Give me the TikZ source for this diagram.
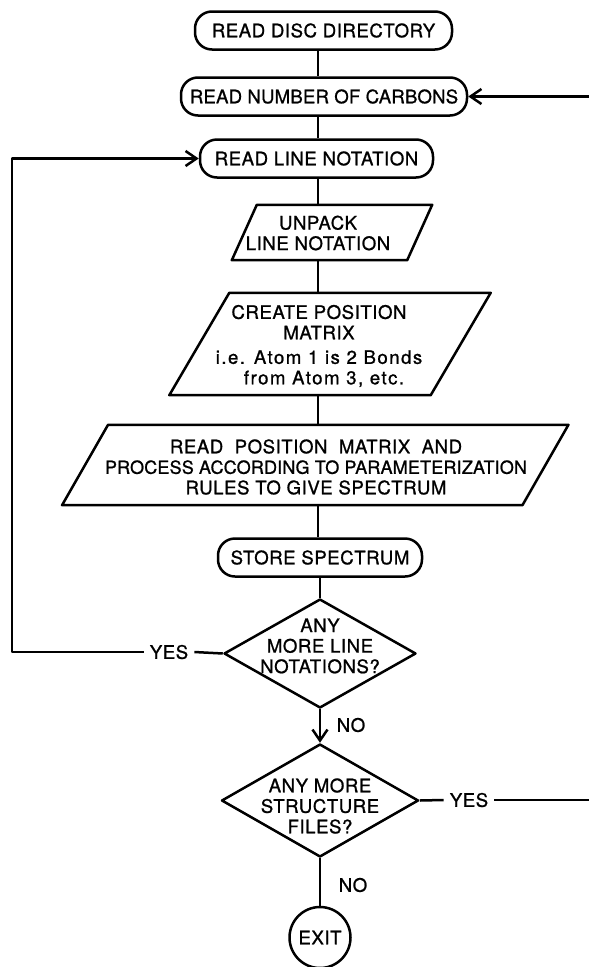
\documentclass[tikz,border=0pt]{standalone}
\usepackage{fontspec}
\setmainfont{TeX Gyre Heros}[LetterSpace=3, FakeBold=1]
\newfontfamily\widefont{TeX Gyre Heros}[LetterSpace=8, FakeBold=1]
\newfontfamily\tightfont{TeX Gyre Heros}[LetterSpace=1, FakeBold=1]
\usetikzlibrary{arrows.meta,shapes.geometric}

% parallelogram drawn around an empty named box: #1 node, #2 horizontal slant
\newcommand\slantbox[2]{%
  \draw[flow] ([xshift=#2/2]#1.north west) -- ([xshift=#2/2]#1.north east)
    -- ([xshift=-#2/2]#1.south east) -- ([xshift=-#2/2]#1.south west) -- cycle;}

\begin{document}
\begin{tikzpicture}[x=1pt,y=-1pt,
  every node/.style={font=\fontsize{18.6}{20.5}\selectfont},
  flow/.style={line width=2.5pt, line join=round},
  >={Straight Barb[length=11pt,width=15pt]},
  term/.style={draw, flow, rounded corners=17pt, inner sep=0pt, minimum height=38pt},
  iobox/.style={inner sep=0pt},
  decision/.style={draw, flow, diamond, inner sep=0pt},
  txt/.style={align=center, inner sep=0pt},
  lbl/.style={inner sep=6pt}
]
\useasboundingbox (0,0) rectangle (589,967);

\coordinate (axis) at (318,0);

% terminals
\node[term, minimum width=257pt] (dir)   at (323.5,30.5)  {READ DISC DIRECTORY};
\node[term, minimum width=286pt] (carb)  at (324,96.5)    {\tightfont READ NUMBER OF CARBONS};
\node[term, minimum width=233pt] (line)  at (316.5,158.5) {READ LINE NOTATION};
\node[term, minimum width=204pt] (store) at (320,557.5)   {STORE SPECTRUM};

% input/output boxes
\node[iobox, minimum width=175pt, minimum height=55pt]  (unpack)  at (332,232.5) {};
\slantbox{unpack}{25}
\node[txt] (unpacktxt) at (318,233) {UNPACK\\LINE NOTATION};

\node[iobox, minimum width=261pt, minimum height=102pt] (create)  at (330,344) {};
\slantbox{create}{60}
\node[txt] (createtxt) at (319,346) {CREATE POSITION\\MATRIX\\[4pt]
  {\widefont i.e. Atom 1 is 2 Bonds}\\{\widefont\hspace*{10pt}from Atom 3, etc.}};

\node[iobox, minimum width=460pt, minimum height=80pt]  (readpos) at (315.25,465) {};
\slantbox{readpos}{46}
\node[txt] (readpostxt) at (316,467) {READ\ \ POSITION\ \ MATRIX\ \ AND\\
  {\tightfont\fontsize{18}{20.5}\selectfont PROCESS ACCORDING TO PARAMETERIZATION}\\RULES TO GIVE SPECTRUM};

% decisions
\node[decision, minimum width=192pt, minimum height=109pt] (d1) at (320,653.5) {};
\node[txt] (d1txt) at (320,646) {ANY\\MORE LINE\\NOTATIONS?};
\node[decision, minimum width=197pt, minimum height=113pt] (d2) at (320,800.5) {};
\node[txt] (d2txt) at (320,806) {ANY MORE\\STRUCTURE\\FILES?};

\node[draw, flow, circle, minimum size=61pt, inner sep=0pt] (exit) at (320,937.5) {EXIT};

% labels
\node[lbl] (yesL) at (169,652) {YES};
\node[lbl] (yesR) at (469,800) {YES};
\node (no1) at (351,725) {NO};
\node (no2) at (353,885) {NO};

\coordinate (lcorner) at (12,652);
\coordinate (rend) at (589,800);

% main flow
\draw[flow] (dir.south -| axis) -- (carb.north -| axis);
\draw[flow] (carb.south -| axis) -- (line.north -| axis);
\draw[flow] (line.south -| axis) -- (unpack.north -| axis);
\draw[flow] (unpack.south -| axis) -- (create.north -| axis);
\draw[flow] (create.south -| axis) -- (readpos.north -| axis);
\draw[flow] (readpos.south -| axis) -- (store.north -| axis);
\draw[flow] (store.south -| d1.north) -- (d1.north);
\draw[flow,->] (d1.south) -- (d2.north);
\draw[flow] (d2.south) -- (exit.north);

% loop back for more line notations
\draw[flow] (d1.west) -- (yesL.east);
\draw[flow,->] (yesL.west) -- (lcorner) |- (line.west);

% loop back for more structure files
\draw[flow] (d2.east) -- (yesR.west);
\draw[flow] (yesR.east) -- (rend);
\draw[flow,->] (carb.east -| rend) -- (carb.east);
\end{tikzpicture}
\end{document}
